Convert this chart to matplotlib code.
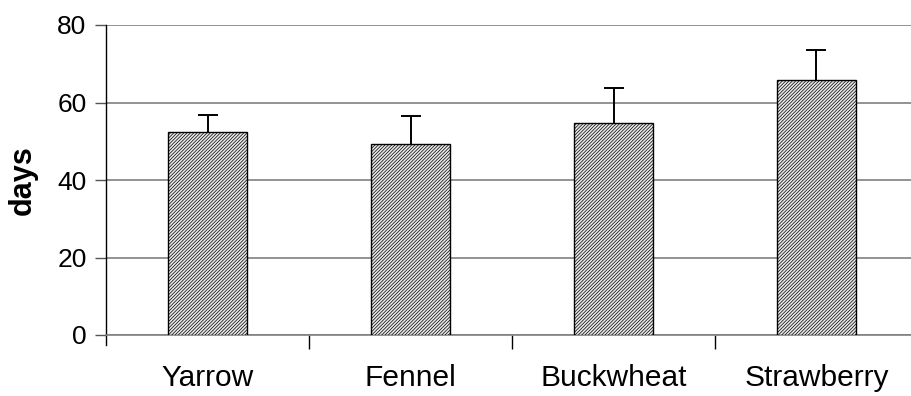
import matplotlib
matplotlib.use("Agg")
import matplotlib.pyplot as plt
import numpy as np

plt.rcParams['font.family'] = ['Liberation Sans', 'DejaVu Sans']
plt.rcParams['hatch.linewidth'] = 0.5
plt.rcParams['hatch.color'] = '#303030'

categories = ["Yarrow", "Fennel", "Buckwheat", "Strawberry"]
means = [52.3, 49.2, 54.8, 65.7]
errors = [4.5, 7.3, 9.0, 7.8]
yticks = [0, 20, 40, 60, 80]

fig = plt.figure(figsize=(9.11, 3.96), dpi=100)
ax = fig.add_axes([106/911, 61/396, 812/911, 310/396])

x = np.arange(len(categories))
ax.bar(x, means, width=0.39, color='#e8e8e8', edgecolor='black', linewidth=1.0,
       hatch='//////////', zorder=3)
_, caps, _ = ax.errorbar(x, means, yerr=[np.zeros(len(errors)), errors], fmt='none',
                         ecolor='black', elinewidth=1.4, capsize=7, capthick=1.4, zorder=4)
caps[0].set_visible(False)

ax.set_xlim(-0.5, 3.5)
ax.set_ylim(0, 80)
ax.set_yticks(yticks)
ax.set_yticklabels([str(v) for v in yticks], fontsize=19)
ax.yaxis.grid(True, color='#808080', linewidth=1.2, zorder=0)
ax.set_axisbelow(True)

ax.set_xticks(x)
ax.set_xticklabels(categories, fontsize=21.5)
ax.tick_params(axis='x', which='major', length=0, pad=21)
ax.set_xticks([0.5, 1.5, 2.5], minor=True)
ax.tick_params(axis='x', which='minor', length=10, width=1, color='black', direction='out')
ax.tick_params(axis='y', length=8, width=1, color='#555555', direction='out', pad=6)

for s in ['top', 'right']:
    ax.spines[s].set_visible(False)
ax.spines['bottom'].set_color('#808080')
ax.spines['bottom'].set_linewidth(1.2)
ax.spines['left'].set_color('black')
ax.spines['left'].set_linewidth(1.0)
ax.spines['left'].set_bounds(-2.6, 80)

ax.set_ylabel('days', fontsize=22, fontweight='bold', labelpad=14)

fig.savefig('out.png', dpi=100)
